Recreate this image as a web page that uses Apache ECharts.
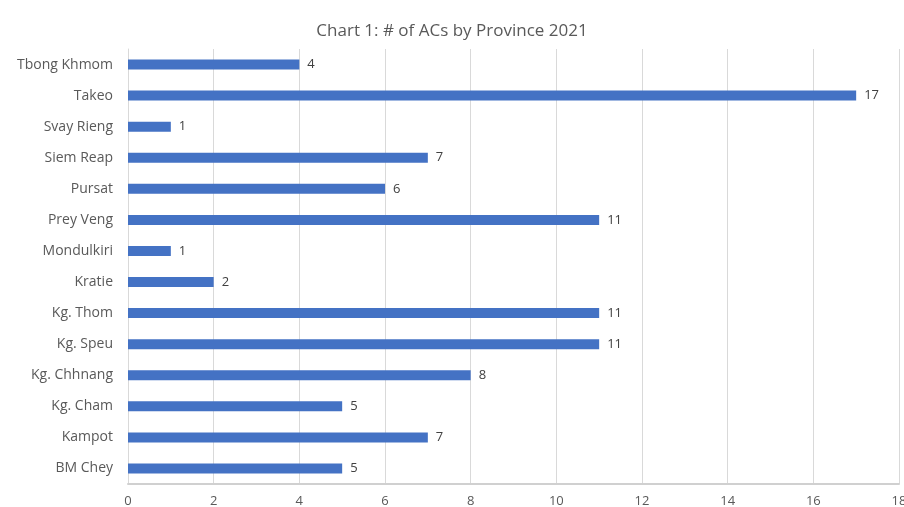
<!DOCTYPE html>
<html><head><meta charset="utf-8">
<script src="https://cdn.jsdelivr.net/npm/echarts@6/dist/echarts.min.js"></script>
<style>html,body{margin:0;padding:0;background:#fff}#c{width:904px;height:507px}</style>
</head><body><div id="c"></div>
<script>
const categories = ["BM Chey","Kampot","Kg. Cham","Kg. Chhnang","Kg. Speu","Kg. Thom","Kratie","Mondulkiri","Prey Veng","Pursat","Siem Reap","Svay Rieng","Takeo","Tbong Khmom"];
const values = [5,7,5,8,11,11,2,1,11,6,7,1,17,4];
const chartTitle = "Chart 1: # of ACs by Province 2021";
const chart = echarts.init(document.getElementById('c'));
chart.setOption({
  backgroundColor:'#fff',
  animation:false,
  title:{text:chartTitle,left:'center',top:18,textStyle:{fontFamily:'Open Sans',fontSize:17,fontWeight:'normal',color:'#595959'}},
  grid:{left:128,right:5,top:49,bottom:23,containLabel:false,outerBoundsMode:'none'},
  xAxis:{type:'value',min:0,max:18,interval:2,
    axisLine:{show:true,lineStyle:{color:'#d0d0d0',width:2}},axisTick:{show:false},
    axisLabel:{color:'#595959',fontSize:13,fontFamily:'Open Sans',margin:11},
    splitLine:{lineStyle:{color:'#d9d9d9'}}},
  yAxis:{type:'category',data:categories,
    axisLine:{show:true,lineStyle:{color:'#d9d9d9'}},axisTick:{show:false},
    axisLabel:{color:'#595959',fontSize:14,fontFamily:'Open Sans',margin:15}},
  series:[{type:'bar',data:values,barWidth:10,itemStyle:{color:'#4472C4'},
    label:{show:true,position:'right',distance:8,color:'#404040',fontSize:13,fontFamily:'Open Sans'}}]
});
</script></body></html>
